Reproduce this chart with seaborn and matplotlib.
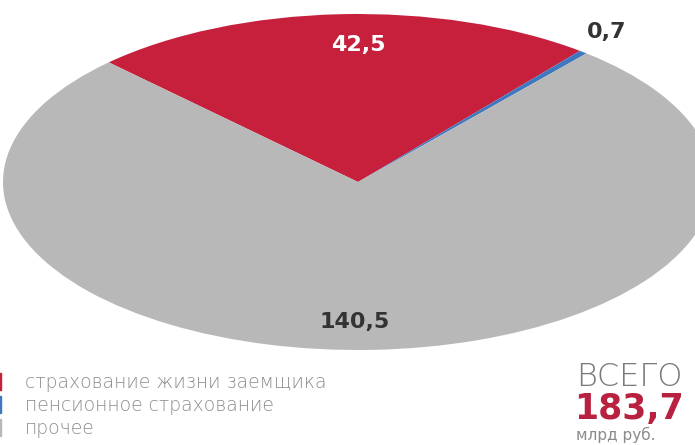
import matplotlib
matplotlib.use("Agg")
import matplotlib.pyplot as plt
import seaborn as sns

categories = ["страхование жизни заемщика", "пенсионное страхование", "прочее"]
values = [42.5, 0.7, 140.5]
value_labels = ["42,5", "0,7", "140,5"]
total_label = "183,7"
colors = ["#C6203D", "#3F78C0", "#B8B8B8"]

sns.set_theme(style="white")
plt.rcParams["font.family"] = ["DejaVu Sans"]

fig = plt.figure(figsize=(6.95, 4.45), dpi=100)
ax = fig.add_axes([0, 0, 1, 1])

wedges, _ = ax.pie(values, colors=colors, startangle=134.6, counterclock=False,
                   wedgeprops=dict(linewidth=0))
ax.set_aspect("auto")
ax.set_xlim(-358 / 355, 337 / 355)
ax.set_ylim(-263 / 168, 182 / 168)
ax.axis("off")

# value labels (pixel positions converted to data units)
ax.text(0.0, (182 - 45) / 168, value_labels[0], color="white", fontsize=16,
        fontweight="bold", ha="center", va="center")
ax.text((607 - 358) / 355, (182 - 32) / 168, value_labels[1], color="#333333",
        fontsize=16, fontweight="bold", ha="center", va="center")
ax.text(-3 / 355, (182 - 322) / 168, value_labels[2], color="#333333", fontsize=16,
        fontweight="bold", ha="center", va="center")

# legend
handles = [plt.Rectangle((0, 0), 1, 1, color=c) for c in colors]
fig.legend(handles, categories, loc="upper left", bbox_to_anchor=(-0.045, 0.2),
           frameon=False, handlelength=0.8, handleheight=1.0, handletextpad=1.3,
           labelspacing=0.22, prop=dict(size=13.5, weight="light"),
           labelcolor="#8c8c8c")

# total
fig.text(576 / 695, 1 - 377 / 445, "ВСЕГО", fontsize=23, color="#7a7a7a",
         fontweight="light", ha="left", va="center")
fig.text(574 / 695, 1 - 409 / 445, total_label, fontsize=25, color="#B8213F",
         fontweight="bold", ha="left", va="center")
fig.text(576 / 695, 1 - 435 / 445, "млрд руб.", fontsize=11, color="#8a8a8a",
         ha="left", va="center")

fig.savefig("out.png", dpi=100)
